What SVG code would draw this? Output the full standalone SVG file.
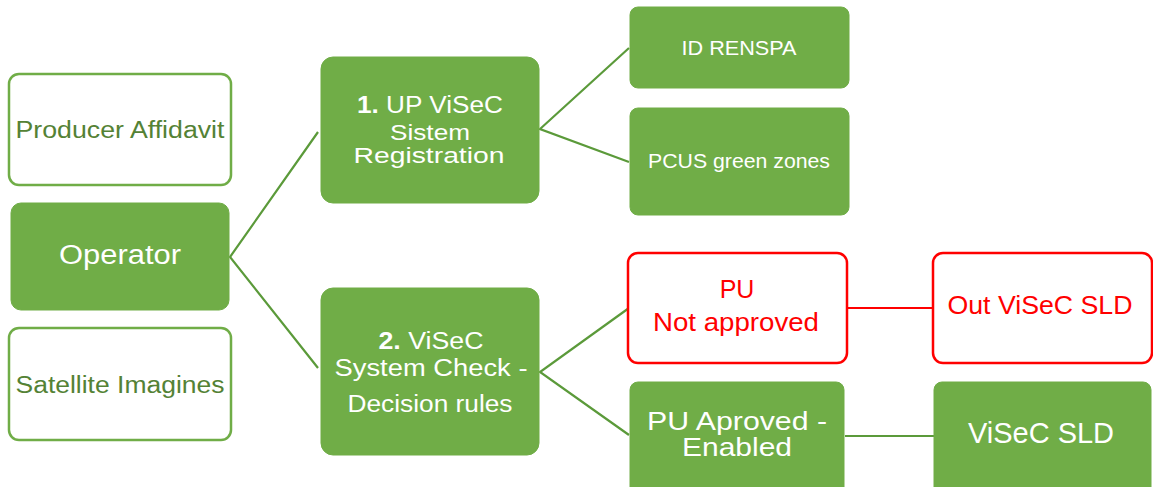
<svg xmlns="http://www.w3.org/2000/svg" width="1153" height="487" viewBox="0 0 1153 487">
<style>
  .fill{fill:#70AD47;stroke:#70AD47;stroke-width:1}
  .outl{fill:#ffffff;stroke:#70AD47;stroke-width:2.5}
  .red{fill:#ffffff;stroke:#FF0000;stroke-width:2.5}
  text{font-family:"Liberation Sans",Arial,sans-serif;text-anchor:middle}
  .w{fill:#ffffff}
  .g{fill:#548235}
  .r{fill:#FF0000}
  .c{stroke:#5B9A3A;stroke-width:2.2;fill:none}
  .cr{stroke:#FF0000;stroke-width:2.2;fill:none}
</style>
<rect width="1153" height="487" fill="#ffffff"/>
<g id="connectors">
  <polyline class="c" points="318,132 230,257 318,368"/>
  <polyline class="c" points="629,48 540,129 629,162"/>
  <polyline class="c" points="629,308 540,372 629,435"/>
  <line class="cr" x1="847" y1="308" x2="933" y2="308"/>
  <line class="c" x1="845" y1="436" x2="934" y2="436"/>
</g>
<g id="producer">
  <rect class="outl" x="9" y="74" width="222" height="111" rx="10"/>
  <text class="g" x="120" y="138" font-size="23" textLength="209" lengthAdjust="spacingAndGlyphs">Producer Affidavit</text>
</g>
<g id="operator">
  <rect class="fill" x="11" y="203" width="218" height="107" rx="10"/>
  <text class="w" x="120" y="264" font-size="27" textLength="122" lengthAdjust="spacingAndGlyphs">Operator</text>
</g>
<g id="satellite">
  <rect class="outl" x="9" y="328" width="222" height="112" rx="10"/>
  <text class="g" x="120" y="393" font-size="23" textLength="209" lengthAdjust="spacingAndGlyphs">Satellite Imagines</text>
</g>
<g id="registration">
  <rect class="fill" x="321" y="57" width="218" height="146" rx="12"/>
  <text class="w" x="430" y="113" font-size="23" textLength="146" lengthAdjust="spacingAndGlyphs"><tspan font-weight="bold">1.</tspan> UP ViSeC</text>
  <text class="w" x="430" y="140" font-size="22" textLength="80" lengthAdjust="spacingAndGlyphs">Sistem</text>
  <text class="w" x="429" y="163" font-size="22" textLength="151" lengthAdjust="spacingAndGlyphs">Registration</text>
</g>
<g id="check">
  <rect class="fill" x="321" y="288" width="218" height="167" rx="12"/>
  <text class="w" x="431" y="349" font-size="23" textLength="105" lengthAdjust="spacingAndGlyphs"><tspan font-weight="bold">2.</tspan> ViSeC</text>
  <text class="w" x="431" y="376" font-size="23" textLength="193" lengthAdjust="spacingAndGlyphs">System Check -</text>
  <text class="w" x="430" y="412" font-size="23" textLength="165" lengthAdjust="spacingAndGlyphs">Decision rules</text>
</g>
<g id="renspa">
  <rect class="fill" x="630" y="7" width="219" height="81" rx="8"/>
  <text class="w" x="739" y="55" font-size="21" textLength="115" lengthAdjust="spacingAndGlyphs">ID RENSPA</text>
</g>
<g id="pcus">
  <rect class="fill" x="630" y="108" width="219" height="107" rx="8"/>
  <text class="w" x="739" y="168" font-size="21" textLength="182" lengthAdjust="spacingAndGlyphs">PCUS green zones</text>
</g>
<g id="notapproved">
  <rect class="red" x="628" y="253" width="219" height="110" rx="10"/>
  <text class="r" x="737" y="298" font-size="25">PU</text>
  <text class="r" x="736" y="331" font-size="25" textLength="166" lengthAdjust="spacingAndGlyphs">Not approved</text>
</g>
<g id="outvisec">
  <rect class="red" x="933" y="253" width="219" height="110" rx="10"/>
  <text class="r" x="1040" y="314" font-size="25" textLength="185" lengthAdjust="spacingAndGlyphs">Out ViSeC SLD</text>
</g>
<g id="approved">
  <rect class="fill" x="630" y="382" width="214" height="115" rx="8"/>
  <text class="w" x="737" y="430" font-size="25" textLength="180" lengthAdjust="spacingAndGlyphs">PU Aproved -</text>
  <text class="w" x="737" y="456" font-size="25" textLength="110" lengthAdjust="spacingAndGlyphs">Enabled</text>
</g>
<g id="visecsld">
  <rect class="fill" x="934" y="382" width="217" height="115" rx="8"/>
  <text class="w" x="1041" y="443" font-size="29" textLength="146" lengthAdjust="spacingAndGlyphs">ViSeC SLD</text>
</g>
</svg>
